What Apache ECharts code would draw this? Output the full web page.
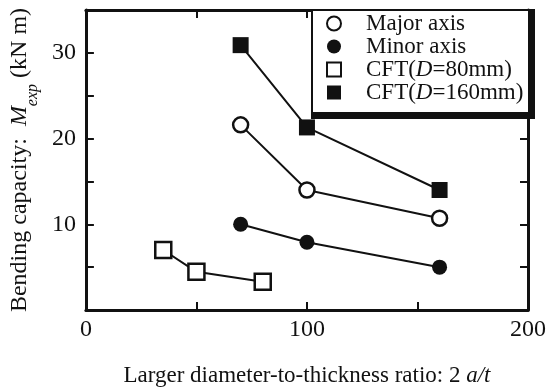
<!DOCTYPE html>
<html><head><meta charset="utf-8">
<script src="https://cdn.jsdelivr.net/npm/echarts@6/dist/echarts.min.js"></script>
<style>html,body{margin:0;padding:0;background:#fff}#c{width:549px;height:392px}</style>
</head><body><div id="c"></div>
<script>
const seriesNames = ['Major axis', 'Minor axis', 'CFT(D=80mm)', 'CFT(D=160mm)'];
const majorX = [70, 100, 160];
const majorY = [21.6, 14.0, 10.7];
const minorX = [70, 100, 160];
const minorY = [10.0, 7.9, 5.0];
const cft80X = [35, 50, 80];
const cft80Y = [7.0, 4.45, 3.3];
const cft160X = [70, 100, 160];
const cft160Y = [30.9, 21.3, 14.0];
const xTickLabels = [0, 100, 200];
const yTickLabels = [10, 20, 30];

const FONT = '"Liberation Serif", "DejaVu Serif", serif';
const K = '#111';
function pairs(xs, ys) { return xs.map((x, i) => [x, ys[i]]); }
function mk(name, xs, ys, symbol, size, filled) {
  return {
    name, type: 'line', data: pairs(xs, ys), symbol, symbolSize: size,
    lineStyle: { color: K, width: 2 },
    itemStyle: { color: filled ? K : '#fff', borderColor: K, borderWidth: filled ? 0 : 2.5 },
    z: 5
  };
}
const chart = echarts.init(document.getElementById('c'));
const axisX = (pos, labels) => ({
  type: 'value', position: pos, min: 0, max: 200, interval: 50,
  axisLine: { show: true, onZero: false, lineStyle: { color: K, width: 3 } },
  axisTick: { show: true, inside: true, length: 8, lineStyle: { color: K, width: 2 } },
  axisLabel: { show: labels, margin: 8, color: K, fontFamily: FONT, fontSize: 24,
    formatter: v => xTickLabels.includes(v) ? String(v) : '' },
  splitLine: { show: false }
});
const axisY = (pos, labels) => ({
  type: 'value', position: pos, min: 0, max: 35, interval: 5,
  axisLine: { show: true, onZero: false, lineStyle: { color: K, width: 3 } },
  axisTick: { show: true, inside: true, length: 8, lineStyle: { color: K, width: 2 } },
  axisLabel: { show: labels, margin: 10, color: K, fontFamily: FONT, fontSize: 24,
    formatter: v => yTickLabels.includes(v) ? String(v) : '' },
  splitLine: { show: false }
});
const xa = axisX('bottom', true);
xa.name = '{n|Larger diameter-to-thickness ratio: 2 }{i|a/t}';
xa.nameLocation = 'middle'; xa.nameGap = 54;
xa.nameTextStyle = { rich: {
  n: { fontFamily: FONT, fontSize: 23, color: K },
  i: { fontFamily: FONT, fontSize: 23, color: K, fontStyle: 'italic' } } };
const ya = axisY('left', true);
ya.name = '{n|Bending capacity:  }{i|M}{s|exp}{n| (kN m)}';
ya.nameLocation = 'middle'; ya.nameGap = 47; ya.nameRotate = 90;
ya.nameTextStyle = { rich: {
  n: { fontFamily: FONT, fontSize: 24, color: K, lineHeight: 26 },
  i: { fontFamily: FONT, fontSize: 24, color: K, fontStyle: 'italic', lineHeight: 26 },
  s: { fontFamily: FONT, fontSize: 16, color: K, fontStyle: 'italic', lineHeight: 26, verticalAlign: 'bottom', padding: [0,0,-8,0] } } };

const icons = ['circle', 'circle', 'rect', 'rect'];
chart.setOption({
  animation: false,
  grid: { left: 77, right: 18, top: 10, bottom: 80, containLabel: false },
  xAxis: [xa, axisX('top', false)],
  yAxis: [ya, axisY('right', false)],
  graphic: [
    { type: 'rect', z: 10, shape: { x: 311, y: 9, width: 224, height: 110 }, style: { fill: K } },
    { type: 'rect', z: 10, shape: { x: 313, y: 11, width: 215, height: 101 }, style: { fill: '#fff' } }
  ],
  legend: {
    orient: 'vertical', left: 326, top: 12, padding: 0, itemGap: 0,
    itemWidth: 14, itemHeight: 14, z: 20,
    data: seriesNames.map((n, i) => ({ name: n, icon: icons[i] })),
    formatter: n => {
      if (n.startsWith('CFT')) { const m = n.match(/^CFT\(D(=.*)\)$/); return '{n|CFT(}{i|D}{n|' + m[1] + ')}'; }
      return '{n|' + n + '}';
    },
    textStyle: { padding: [0, 0, 0, 20], lineHeight: 23,
      rich: {
        n: { fontFamily: FONT, fontSize: 23, color: K, lineHeight: 23 },
        i: { fontFamily: FONT, fontSize: 23, color: K, fontStyle: 'italic', lineHeight: 23 } } }
  },
  series: [
    mk(seriesNames[0], majorX, majorY, 'circle', 15, false),
    mk(seriesNames[1], minorX, minorY, 'circle', 15, true),
    mk(seriesNames[2], cft80X, cft80Y, 'rect', 16, false),
    mk(seriesNames[3], cft160X, cft160Y, 'rect', 16, true)
  ]
});
</script></body></html>
